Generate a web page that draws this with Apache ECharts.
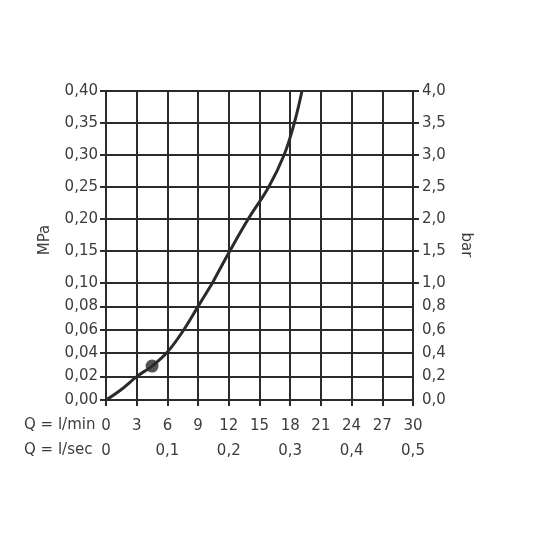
<!DOCTYPE html>
<html>
<head>
<meta charset="utf-8">
<script src="https://cdn.jsdelivr.net/npm/echarts@6/dist/echarts.min.js"></script>
<style>html,body{margin:0;padding:0;background:#fff}#c{width:536px;height:536px}</style>
</head>
<body>
<div id="c"></div>
<script>
// Flow (l/min) vs pressure (MPa)
const curveLow = [[0,0],[1.5,0.009],[3,0.02],[4.5,0.029],[6,0.041],[7.6,0.06],[9,0.08],[10.4,0.10]];
const curveHigh = [[10.4,0.10],[12.1,0.15],[13.9,0.20],[15.9,0.25],[17.4,0.30],[18.4,0.35],[19.15,0.40]];
const markerPoint = [[4.5,0.029]];
const mpaLowLabels = ['0,00','0,02','0,04','0,06','0,08','0,10'];
const mpaHighLabels = ['0,10','0,15','0,20','0,25','0,30','0,35','0,40'];
const barLowLabels = ['0,0','0,2','0,4','0,6','0,8','1,0'];
const barHighLabels = ['1,0','1,5','2,0','2,5','3,0','3,5','4,0'];
const lminLabels = ['0','3','6','9','12','15','18','21','24','27','30'];
const lsecLabels = ['0','0,1','0,2','0,3','0,4','0,5'];

const C = '#2b2b2b', T = '#3c3c3c', F = 'DejaVu Sans';
const line = {lineStyle:{color:C,width:2}};
const chart = echarts.init(document.getElementById('c'));
function lab(arr, extra){ return Object.assign({color:T,fontFamily:F,fontSize:15,formatter:(v,i)=>arr[i]}, extra||{}); }
chart.setOption({
  animation:false,
  grid:[
    {left:106,width:307,top:91,height:192},
    {left:106,width:307,top:283,height:117}
  ],
  xAxis:[
    {gridIndex:0,type:'value',min:0,max:30,interval:3,axisLine:{show:true,lineStyle:{color:C,width:2}},axisTick:{show:false},axisLabel:{show:false},splitLine:line,position:'top'},
    {gridIndex:1,type:'value',min:0,max:30,interval:3,axisLine:{show:true,lineStyle:{color:C,width:2}},axisTick:{show:true,inside:false,length:6,lineStyle:{color:C,width:2}},axisLabel:lab(lminLabels,{margin:19}),splitLine:line},
    {gridIndex:1,type:'value',min:0,max:0.5,interval:0.1,position:'bottom',offset:25,axisLine:{show:false},axisTick:{show:false},axisLabel:lab(lsecLabels,{margin:19}),splitLine:{show:false}}
  ],
  yAxis:[
    {gridIndex:0,type:'value',min:0.10,max:0.40,interval:0.05,position:'left',axisLine:{show:true,lineStyle:{color:C,width:2}},axisTick:{show:true,length:6,lineStyle:{color:C,width:2}},axisLabel:lab(mpaHighLabels,{margin:8}),splitLine:line},
    {gridIndex:0,type:'value',min:1.0,max:4.0,interval:0.5,position:'right',axisLine:{show:true,lineStyle:{color:C,width:2}},axisTick:{show:true,length:6,lineStyle:{color:C,width:2}},axisLabel:lab(barHighLabels,{margin:9}),splitLine:{show:false}},
    {gridIndex:1,type:'value',min:0,max:0.10,interval:0.02,position:'left',axisLine:{show:true,lineStyle:{color:C,width:2}},axisTick:{show:true,length:6,lineStyle:{color:C,width:2}},axisLabel:lab(mpaLowLabels,{margin:8,showMaxLabel:false}),splitLine:line},
    {gridIndex:1,type:'value',min:0,max:1.0,interval:0.2,position:'right',axisLine:{show:true,lineStyle:{color:C,width:2}},axisTick:{show:true,length:6,lineStyle:{color:C,width:2}},axisLabel:lab(barLowLabels,{margin:9,showMaxLabel:false}),splitLine:{show:false}}
  ],
  series:[
    {type:'line',xAxisIndex:0,yAxisIndex:0,data:curveHigh,smooth:0.4,showSymbol:false,lineStyle:{color:C,width:3},z:5},
    {type:'line',xAxisIndex:1,yAxisIndex:2,data:curveLow,smooth:0.4,showSymbol:false,lineStyle:{color:C,width:3},z:5},
    {type:'scatter',xAxisIndex:1,yAxisIndex:2,data:markerPoint,symbol:'circle',symbolSize:13,itemStyle:{color:C},z:6}
  ],
  graphic:[
    {type:'text',left:24,top:418,style:{text:'Q = l/min',fill:T,font:'15px "DejaVu Sans"'}},
    {type:'text',left:24,top:443,style:{text:'Q = l/sec',fill:T,font:'15px "DejaVu Sans"'}},
    {type:'text',x:45,y:240,rotation:Math.PI/2,style:{text:'MPa',fill:T,font:'15px "DejaVu Sans"',align:'center',verticalAlign:'middle'}},
    {type:'text',x:466,y:245,rotation:-Math.PI/2,style:{text:'bar',fill:T,font:'15px "DejaVu Sans"',align:'center',verticalAlign:'middle'}}
  ]
});
</script>
</body>
</html>
